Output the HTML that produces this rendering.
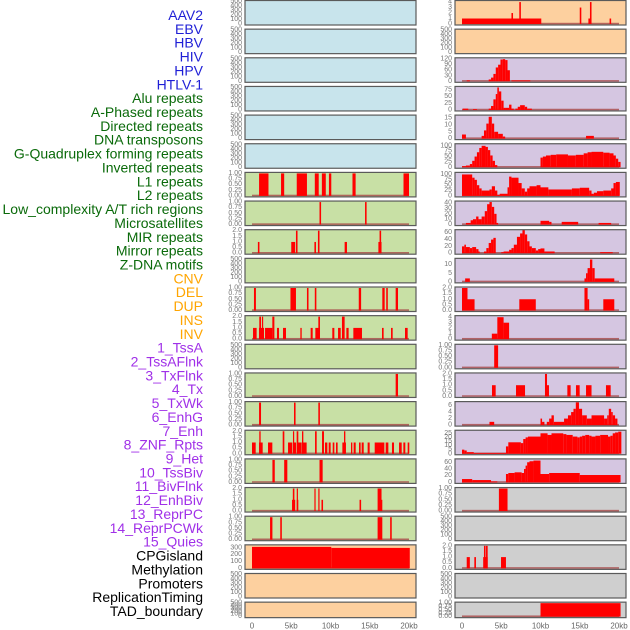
<!DOCTYPE html>
<html><head><meta charset="utf-8"><style>
html,body{margin:0;padding:0;background:#fff;}
svg{display:block;font-family:"Liberation Sans",sans-serif;}
</style></head><body>
<svg id="chart" width="630" height="630" viewBox="0 0 630 630" xmlns="http://www.w3.org/2000/svg">
<g id="labels"></g>
<g id="panels"></g>
<g id="xaxis"></g>
</svg>
<script>
// ---- data ----
const trackLabels = ["AAV2","EBV","HBV","HIV","HPV","HTLV-1","Alu repeats","A-Phased repeats","Directed repeats","DNA transposons","G-Quadruplex forming repeats","Inverted repeats","L1 repeats","L2 repeats","Low_complexity A/T rich regions","Microsatellites","MIR repeats","Mirror repeats","Z-DNA motifs","CNV","DEL","DUP","INS","INV","1_TssA","2_TssAFlnk","3_TxFlnk","4_Tx","5_TxWk","6_EnhG","7_Enh","8_ZNF_Rpts","9_Het","10_TssBiv","11_BivFlnk","12_EnhBiv","13_ReprPC","14_ReprPCWk","15_Quies","CPGisland","Methylation","Promoters","ReplicationTiming","TAD_boundary"];
const labelGroups = ["v","v","v","v","v","v","r","r","r","r","r","r","r","r","r","r","r","r","r","s","s","s","s","s","c","c","c","c","c","c","c","c","c","c","c","c","c","c","c","o","o","o","o","o"];
const xTickValues = [0,5,10,15,20];
const xTickLabels = ["0","5kb","10kb","15kb","20kb"];

// segments: [startKb, endKb, value]; null = empty track
const leftSegs = [
 null,null,null,null,null,null,
 [[0.9,2.1,1],[3.7,4.1,1],[5.7,7.0,1],[8.0,8.5,1],[8.9,9.4,1],[9.8,10.1,1],[12.8,13.2,1],[19.3,20.0,1]],
 [[8.6,8.8,1],[14.4,14.6,1]],
 [[0.75,0.95,1],[5.0,5.5,1],[5.6,5.8,2],[7.95,8.15,1],[8.4,8.6,2],[11.8,12.1,1],[16.1,16.5,1],[16.25,16.45,2]],
 null,
 [[0.25,0.5,1],[4.9,5.6,1],[7.0,7.2,1],[8.0,8.2,1],[13.6,13.9,1],[16.6,16.9,1],[17.1,17.3,1],[18.3,18.6,1]],
 [[0.13,0.59,1],[0.89,1.53,1],[0.93,1.15,2],[1.27,1.40,2],[1.66,2.59,1],[2.59,2.85,2],[3.18,3.44,1],[3.95,4.33,1],[6.16,6.33,1],[7.47,7.73,1],[8.07,8.66,1],[8.45,8.66,2],[10.23,10.49,1],[10.96,11.30,1],[11.46,11.80,2],[12.02,12.31,1],[12.91,14.01,1],[16.56,16.77,1],[17.71,17.92,1],[19.49,19.83,1]],
 null,
 [[18.3,18.6,1]],
 [[0.9,1.15,1],[5.35,5.55,1],[8.45,8.65,1]],
 [[0,0.47,1],[0.89,1.36,1],[0.93,1.10,2],[2.04,2.59,1],[3.91,4.12,2],[4.59,5.14,1],[5.22,5.35,2],[5.35,5.61,1],[5.69,5.90,2],[5.73,6.33,1],[6.37,6.54,2],[6.41,6.96,1],[8.03,8.24,2],[8.92,9.17,2],[9.30,9.60,1],[9.77,10.02,1],[10.28,10.49,1],[10.70,10.91,1],[11.51,11.97,1],[11.72,11.89,2],[12.61,12.78,1],[12.95,13.21,1],[13.63,13.84,1],[13.97,14.23,1],[14.73,14.99,1],[15.63,16.86,1],[17.03,17.37,1],[17.83,18.09,1],[18.73,19.07,1],[19.28,19.53,1],[19.83,20.04,1]],
 [[2.6,2.9,1],[4.1,4.5,1],[8.6,9.0,1]],
 [[5.1,5.5,1],[5.2,5.4,2],[5.7,5.9,1],[5.7,5.8,2],[7.95,8.1,2],[8.45,8.6,2],[8.85,9.05,1],[13.7,13.9,1],[16.0,16.5,2],[16.4,16.6,1]],
 [[2.3,2.6,1],[3.6,3.8,1],[16.0,16.6,1],[17.6,17.8,1]],
 [[0,10.1,315],[10.1,20.1,300]],
 null,null
];
const leftYmax = [500,500,500,500,500,500,1,1,2,500,1,2,500,1,1,2,1,2,1,330,500,500];
const leftTicks = [null,null,null,null,null,null,null,null,null,null,null,null,null,null,null,null,null,null,null,[0,100,200,300],null,null];

const rightSegs = [
 [[0,10.1,1],[6.3,6.5,2],[7.3,7.5,4],[15.0,15.2,3],[16.1,16.4,1],[16.3,16.5,4],[18.8,19.0,1]],
 null,
 [[0.6,1.0,5],[3.4,3.7,10],[3.7,4.0,20],[4.0,4.3,40],[4.3,4.6,75],[4.6,4.9,90],[4.9,5.2,118],[5.2,5.5,120],[5.5,5.8,115],[5.8,6.1,60],[6.3,8.7,5]],
 [[0.1,0.8,5],[1.4,1.9,3],[3.4,3.7,5],[3.7,4.0,15],[4.0,4.3,40],[4.3,4.5,60],[4.5,4.7,85],[4.7,5.0,70],[5.0,5.3,35],[5.3,5.6,8],[5.6,6.0,8],[6.0,6.3,20],[6.3,6.6,5],[6.8,7.1,5],[7.1,7.4,12],[7.4,8.0,18],[8.0,8.3,12],[8.3,8.9,5]],
 [[0,0.5,3],[2.5,2.8,2],[2.8,3.1,6],[3.1,3.4,11],[3.4,3.8,16],[3.8,4.1,11],[4.1,4.6,5],[4.6,5.2,3.5],[5.2,5.5,1.5],[15.8,16.8,2]],
 [[0,0.5,5],[0.5,1.0,8],[1.0,1.3,15],[1.3,1.6,30],[1.6,1.9,50],[1.9,2.2,70],[2.2,2.5,90],[2.5,3.0,100],[3.0,3.3,95],[3.3,3.6,80],[3.6,3.9,55],[3.9,4.2,30],[4.2,4.5,10],[10.0,10.3,45],[10.3,10.7,50],[10.7,11.3,55],[11.3,12.0,58],[12.0,13.5,60],[13.5,14.5,55],[14.5,15.5,58],[15.5,16.0,65],[16.0,16.5,70],[16.5,18.0,72],[18.0,18.8,68],[18.8,19.3,65],[19.3,19.6,55],[19.6,19.9,40],[19.9,20.2,25]],
 [[0,1.3,100],[1.3,1.6,85],[1.6,1.9,75],[1.9,2.2,50],[2.2,2.5,35],[2.5,3.5,25],[3.5,3.8,30],[3.8,4.2,45],[4.2,4.5,25],[4.5,4.8,5],[4.8,5.8,10],[5.8,6.0,40],[6.0,6.3,90],[6.3,7.2,85],[7.2,7.6,60],[7.6,8.0,35],[8.0,8.3,20],[8.3,8.6,35],[8.6,9.5,45],[9.5,10.0,50],[10.0,11.0,40],[11.0,14.0,30],[14.0,15.0,35],[15.0,16.2,38],[16.2,16.5,25],[16.5,16.8,10],[16.8,17.2,15],[17.2,18.0,22],[18.0,19.0,25],[19.0,19.3,35],[19.3,19.6,60],[19.6,20.1,65]],
 [[0.5,1.1,3],[1.1,1.4,8],[1.4,1.8,10],[1.8,2.1,15],[2.1,2.5,10],[2.5,2.9,15],[2.9,3.2,25],[3.2,3.5,38],[3.5,3.8,42],[3.8,4.1,33],[4.1,4.4,20],[4.4,4.6,3],[10.0,11.1,7],[11.1,11.4,5],[12.7,14.8,5],[17.4,19.0,3]],
 [[0,0.3,20],[0.3,0.5,25],[0.5,1.0,18],[1.0,1.3,15],[1.3,1.8,18],[1.8,2.1,12],[2.1,2.2,5],[2.8,3.1,5],[3.1,3.4,15],[3.4,3.7,30],[3.7,4.0,40],[4.0,4.3,45],[5.0,5.3,3],[5.3,6.0,5],[6.0,6.3,10],[6.3,6.6,15],[6.6,7.0,25],[7.0,7.4,48],[7.4,7.7,58],[7.7,8.0,68],[8.0,8.3,55],[8.3,8.6,35],[8.6,8.9,20],[8.9,9.4,15],[9.4,9.7,8],[9.7,10.0,12],[10.0,10.5,14],[10.5,11.8,5],[17.6,19.2,3]],
 [[0.4,1.0,2],[15.6,15.8,2],[15.8,16.0,5],[16.0,16.3,8],[16.3,16.6,13],[16.6,16.9,8],[16.9,19.4,2]],
 [[0,0.7,2],[0.7,1.6,1],[7.3,9.4,1],[15.6,16.0,2],[16.0,16.2,1],[18.0,19.4,1]],
 [[3.8,4.5,1],[4.5,5.3,4],[5.3,6.0,3]],
 [[4.1,4.6,1]],
 [[3.82,4.29,1],[6.88,8.03,1],[10.57,10.83,2],[10.83,11.08,1],[13.42,13.84,1],[14.52,14.99,1],[15.8,16.5,1],[18.34,18.94,1]],
 [[3.5,4.1,1],[10.0,10.2,2],[10.2,10.5,1],[10.8,11.1,1],[11.1,11.4,2],[11.4,11.7,3],[11.7,13.0,1],[13.0,13.5,2],[13.5,13.9,3],[13.9,14.2,4],[14.2,14.5,5],[14.5,14.9,7],[14.9,15.3,5],[15.3,15.9,3],[15.9,16.5,2],[16.5,18.1,3],[18.1,18.5,2],[18.5,18.7,3],[18.7,19.0,5],[19.0,19.2,4],[19.2,19.5,3],[19.5,19.8,2]],
 [[0,0.3,5],[0.3,0.6,4],[0.6,1.5,2],[1.5,5.6,1],[5.6,5.9,9],[5.9,7.5,14],[7.5,7.8,13],[7.8,8.1,18],[8.1,8.4,20],[8.4,10.0,21],[10.0,10.9,25],[10.9,11.4,23],[11.4,12.9,25],[12.9,13.3,24],[13.3,14.1,23],[14.1,14.7,21],[14.7,15.0,20],[15.0,15.3,21],[15.3,15.7,22],[15.7,16.2,23],[16.2,16.5,22],[16.5,17.0,21],[17.0,17.6,22],[17.6,18.6,23],[18.6,18.9,21],[18.9,19.2,22],[19.2,19.5,25],[19.5,19.9,26],[19.9,20.3,27]],
 [[0,1.3,10],[1.3,3.7,7],[3.7,4.5,3],[5.6,5.9,25],[5.9,6.7,28],[6.7,7.6,30],[7.6,7.9,28],[7.9,8.1,40],[8.1,8.3,50],[8.3,8.6,60],[8.6,9.1,63],[9.1,10.0,65],[10.0,11.1,25],[11.1,15.0,28],[15.0,20.2,22]],
 [[4.7,5.8,1]],
 null,
 [[0.6,1.0,1],[1.57,1.78,1],[2.7,3.27,1],[2.8,3.0,2],[3.06,3.27,2],[4.97,5.6,1]],
 null,
 [[10.0,20.2,1]]
];
const rightYmax = [4.1,500,122,85,16.5,105,105,42,66,13.1,2,4.1,1,2,6.9,27.5,67,1,500,2,500,1];
const rightTicks = [[0,1,2,3,4],null,[0,30,60,90,120],[0,25,50,75],[0,5,10,15],[0,25,50,75,100],[0,25,50,75,100],[0,10,20,30,40],[0,20,40,60],[0,5,10],null,[0,1,2,3,4],null,null,[0,2,4,6],[0,5,10,15,20,25],[0,20,40,60],null,null,null,null,null];

// ---- rendering ----
const NS = "http://www.w3.org/2000/svg";
const groupColors = {v:"#1f1fd6", r:"#0a6a0a", s:"#ffa500", c:"#a030e8", o:"#000000"};
const leftBg = i => i < 6 ? "#c8e4ec" : (i < 19 ? "#c8e0a5" : "#fdd09f");
const rightBg = i => i < 2 ? "#fdd09f" : (i < 17 ? "#d5c6e1" : "#cfcfcf");
const KBPX = 7.85;
function mk(tag, attrs, parent){ const e=document.createElementNS(NS,tag); for(const k in attrs) e.setAttribute(k,attrs[k]); parent.appendChild(e); return e; }

const labG = document.getElementById("labels");
trackLabels.forEach((t,i)=>{
  const e = mk("text",{x:203,y:15+13.86*i,"text-anchor":"end","dominant-baseline":"central","font-size":"14",fill:groupColors[labelGroups[i]]},labG);
  
  
  e.textContent = t;
});

const panG = document.getElementById("panels");
function drawPanel(i, side, segs, ymax, ticks){
  const px = side==="L" ? 245 : 455;
  const x0 = side==="L" ? 252 : 462;
  const top = 0.5 + 28.65*i;
  const h = i===21 ? 15.5 : 24.5;
  const X = kb => x0 + kb*KBPX;
  const Y = v => top + h - 1 - v/ymax*(h-2);
  const g = mk("g",{},panG);
  
  
  mk("rect",{x:px,y:top,width:171,height:h,fill:side==="L"?leftBg(i):rightBg(i)},g);
  // ticks
  let tv;
  if (ticks) tv = ticks;
  else if (ymax===500) tv=[0,100,200,300,400,500];
  else if (ymax===1) tv=[0,0.25,0.5,0.75,1];
  else tv=[0,0.5,1,1.5,2];
  tv.forEach(v=>{
    const lab = ymax===1 ? v.toFixed(2) : (ymax===2 ? v.toFixed(1) : String(v));
    const t = mk("text",{x:px-3,y:Y(v),"text-anchor":"end","dominant-baseline":"central","font-size":"7",fill:"#777"},g);
    
    
    t.textContent = lab;
  });
  if (segs){
    const bl = mk("rect",{x:X(0),y:top+h-2.2,width:X(20)-X(0),height:1.6,fill:"#a84848",opacity:"0.8"},g);
    
    
    segs.forEach(s=>{
      const r = mk("rect",{x:X(s[0]),y:Y(s[2]),width:Math.max(1.2,X(s[1])-X(s[0])),height:Y(0)-Y(s[2]),fill:"#ff0000"},g);
      
      
    });
  }
  mk("rect",{x:px,y:top,width:171,height:h,fill:"none",stroke:"#5a5a5a","stroke-width":"1.2"},g);
}
for (let i=0;i<22;i++){
  drawPanel(i,"L",leftSegs[i],leftYmax[i],leftTicks[i]);
  drawPanel(i,"R",rightSegs[i],rightYmax[i],rightTicks[i]);
}

const xg = document.getElementById("xaxis");
[252,462].forEach(x0=>{
  xTickValues.forEach((v,j)=>{
    const t = mk("text",{x:x0+v*KBPX,y:626,"text-anchor":"middle","dominant-baseline":"central","font-size":"8",fill:"#666"},xg);
    
    
    t.textContent = xTickLabels[j];
  });
});
</script>
</body></html>
